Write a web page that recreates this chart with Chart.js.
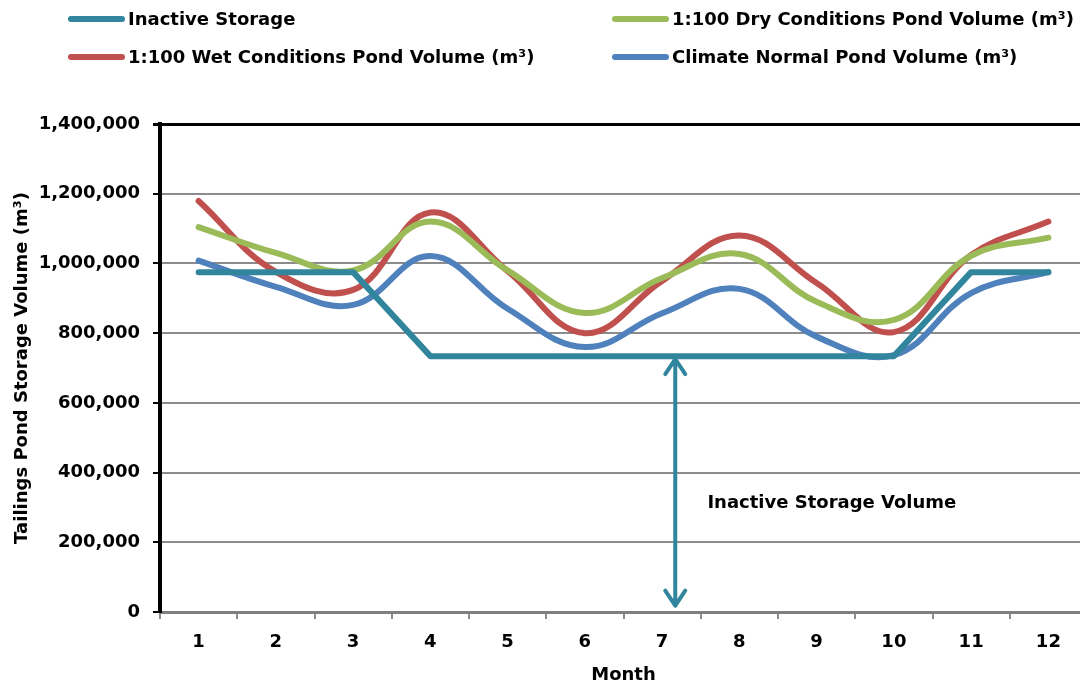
<!DOCTYPE html>
<html>
<head>
<meta charset="utf-8">
<script src="https://cdn.jsdelivr.net/npm/chart.js@4.4.1/dist/chart.umd.min.js"></script>
<style>
  html, body { margin: 0; padding: 0; background: #fff; overflow: hidden; }
  #wrap { position: relative; width: 1088px; height: 686px; }
  #legend { position: absolute; left: 0; top: 0; width: 1088px; height: 80px; font: bold 18px "DejaVu Sans", sans-serif; color: #000; }
  .item { position: absolute; display: flex; align-items: center; white-space: nowrap; }
  .swatch { display: inline-block; width: 57px; height: 6px; border-radius: 3px; margin-right: 3px; }
</style>
</head>
<body>
<div id="wrap">
  <canvas id="myChart" width="1088" height="686"></canvas>
  <div id="legend"></div>
</div>
<script>
var months = ["1", "2", "3", "4", "5", "6", "7", "8", "9", "10", "11", "12"]
var yTicks = [0, 200000, 400000, 600000, 800000, 1000000, 1200000, 1400000]

var inactive = [975000, 975000, 975000, 734000, 734000, 734000, 734000, 734000, 734000, 734000, 975000, 975000]
var dry = [1104000, 1030000, 980000, 1120000, 980000, 858000, 958000, 1027000, 890000, 838000, 1022000, 1074000]
var wet = [1179000, 976000, 924000, 1146000, 978000, 800000, 950000, 1080000, 944000, 803000, 1024000, 1120000]
var normal = [1008000, 933000, 881000, 1021000, 870000, 760000, 857000, 927000, 790000, 737000, 915000, 975000]

var FONT = "DejaVu Sans"

// double arrow + label below the inactive storage level
var arrowPlugin = {
    id: "arrowNote",
    afterDatasetsDraw: function (chart) {
        var c = chart.ctx
        var xs = chart.scales.x, ys = chart.scales.y
        var x = xs.getPixelForValue(6.17)
        var top = ys.getPixelForValue(734000) + 3
        var bot = ys.getPixelForValue(18000)
        c.save()
        c.strokeStyle = "#31859C"
        c.lineWidth = 4
        c.lineCap = "round"
        c.lineJoin = "round"
        c.beginPath()
        c.moveTo(x, top); c.lineTo(x, bot)
        c.moveTo(x - 10, top + 15); c.lineTo(x, top); c.lineTo(x + 10, top + 15)
        c.moveTo(x - 10, bot - 15); c.lineTo(x, bot); c.lineTo(x + 10, bot - 15)
        c.stroke()
        c.fillStyle = "#000"
        c.font = "bold 18px " + FONT
        c.textBaseline = "middle"
        c.fillText("Inactive Storage Volume", xs.getPixelForValue(6.586), ys.getPixelForValue(312000))
        c.restore()
    }
}

var myCharts = document.getElementById("myChart").getContext("2d")
var chart = new Chart(myCharts, {
    type: 'line',
    data: {
        labels: months,
        datasets: [
            {
                label: "Inactive Storage",
                data: inactive,
                borderColor: "#31859C",
                tension: 0
            },
            {
                label: "1:100 Dry Conditions Pond Volume (m³)",
                data: dry,
                borderColor: "#9BBB59",
                tension: 0.4
            },
            {
                label: "1:100 Wet Conditions Pond Volume (m³)",
                data: wet,
                borderColor: "#C0504D",
                tension: 0.4
            },
            {
                label: "Climate Normal Pond Volume (m³)",
                data: normal,
                borderColor: "#4F81BD",
                tension: 0.4
            }
        ]
    },
    options: {
        responsive: false,
        animation: false,
        layout: { padding: { top: 124, right: 1, left: 0, bottom: 0 } },
        elements: {
            point: { radius: 0 },
            line: { borderWidth: 6, borderCapStyle: "round", borderJoinStyle: "round", fill: false }
        },
        plugins: {
            legend: { display: false },
            tooltip: { enabled: false }
        },
        scales: {
            x: {
                offset: true,
                afterFit: function (s) { s.height = 74 },
                grid: { drawOnChartArea: false, drawTicks: true, tickLength: 7, color: "#8c8c8c", lineWidth: 2, offset: true },
                border: { color: "#7f7f7f", width: 3 },
                ticks: { color: "#000", font: { family: FONT, size: 18, weight: "bold" }, padding: 13 },
                title: { display: true, text: "Month", color: "#000", font: { family: FONT, size: 18, weight: "bold" }, padding: { top: 4, bottom: 0 } }
            },
            y: {
                min: 0,
                max: 1400000,
                afterFit: function (s) { s.width = 160 },
                afterBuildTicks: function (s) { s.ticks = yTicks.map(function (v) { return { value: v } }) },
                grid: {
                    tickLength: 7,
                    color: function (ctx) { return ctx.tick && ctx.tick.value === 1400000 ? "#000" : "#8c8c8c" },
                    lineWidth: function (ctx) { return ctx.tick && ctx.tick.value === 1400000 ? 3 : 2 },
                    tickColor: "#000"
                },
                border: { color: "#000", width: 4 },
                ticks: {
                    color: "#000",
                    padding: 13,
                    font: { family: FONT, size: 18, weight: "bold" },
                    callback: function (v) { return v.toLocaleString("en-US") }
                },
                title: { display: true, text: "Tailings Pond Storage Volume (m³)", color: "#000", font: { family: FONT, size: 18, weight: "bold" }, padding: { top: 12, bottom: 0 } }
            }
        }
    },
    plugins: [arrowPlugin]
})

// legend in two columns like the original
var legendPos = [[68, 19], [612, 19], [68, 57], [612, 57]]
var lg = document.getElementById("legend")
chart.data.datasets.forEach(function (ds, i) {
    var d = document.createElement("div")
    d.className = "item"
    d.style.left = legendPos[i][0] + "px"
    d.style.top = (legendPos[i][1] - 11) + "px"
    d.innerHTML = '<span class="swatch" style="background:' + ds.borderColor + '"></span><span>' + ds.label + '</span>'
    lg.appendChild(d)
})
</script>
</body>
</html>
